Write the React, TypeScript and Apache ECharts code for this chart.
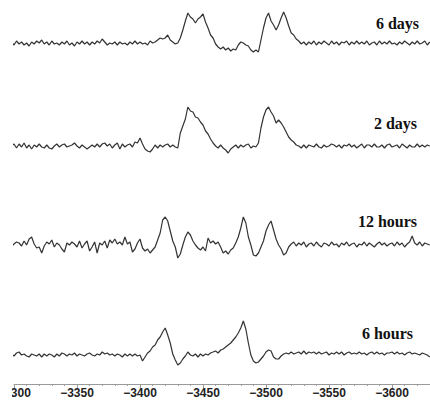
import React, { useEffect, useRef } from "react";
import * as echarts from "echarts";

// Field axis sampling (G): first sample and spacing between samples
const FIELD_START = -3298;
const FIELD_STEP = 2;
const TICK_INTERVAL = 50;
const FIELD_MIN = -3650;
const FIELD_MAX = -3300;

// Trace labels
const TRACE_LABELS = ["6 days", "2 days", "12 hours", "6 hours"];

// Signal intensities (arbitrary units, baseline = 0), one value per field sample
const SIX_DAYS = [
  1, -2, 2, -1, 1, -2, 0, -3, 1, -1,
  2, 0, 3, -1, 1, -2, 2, -1, 0, -2,
  1, -1, 2, -2, 0, -3, 1, -1, 2, -1,
  1, -2, 1, -1, 2, 0, 4, 1, -2, 0,
  -1, 1, -2, 1, -1, 0, -2, 1, -1, 2,
  -1, 1, -1, 0, -2, 2, 0, 1, 3, 5,
  4, 5, 8, 3, 1, -1, 0, 5, 13, 22,
  30, 26, 24, 20, 24, 26, 29, 21, 15, 8,
  5, -1, -4, -6, -4, -7, -5, -8, -6, -7,
  -2, 1, 0, -2, -3, -7, -9, -7, -9, 3,
  15, 25, 30, 22, 18, 13, 18, 25, 31, 25,
  17, 10, 8, 4, 2, -1, 1, -2, 1, -1,
  2, -2, 1, -1, 2, 0, -2, 2, -1, 1,
  -2, 1, 0, 2, -2, 1, -1, 2, -1, 1,
  -1, 2, -2, 0, 1, -2, 2, -1, 1, -1,
  2, -1, 0, -2, 1, -1, 2, 0, -2, 1,
  -1, 2, -1, 0, 2, -2, 1,
];

const TWO_DAYS = [
  0, 2, -2, 2, -1, 3, -2, 1, -3, 1,
  -1, 2, -1, -2, 1, -2, -3, 0, 2, -1,
  1, 2, -1, 0, 1, 3, 0, -2, 1, -1,
  -3, -1, 1, -1, 2, -1, 2, 3, 0, 2,
  -2, 1, 3, -3, 2, -1, 1, 2, -1, 4,
  3, 8, 2, -3, -5, -6, -3, 1, -2, 1,
  -1, 1, 2, -1, 1, -1, -2, 13, 20, 27,
  39, 35, 34, 29, 28, 24, 21, 15, 12, 7,
  3, 0, -2, 1, -2, -4, -7, -3, -1, 1,
  -2, 1, -1, 1, 2, -2, 0, -1, 3, 18,
  29, 36, 39, 34, 30, 23, 26, 23, 19, 14,
  9, 6, 4, 1, 0, -2, 1, -2, 1, 0,
  -1, 2, -1, -2, 1, -1, 0, 2, 1, -1,
  1, -2, 1, 0, 2, -1, 1, -2, 0, 2,
  -2, 1, 1, -1, 2, -1, -1, 1, -2, 1,
  2, -1, 0, 1, -2, 2, 0, -2, 1, -1,
  -1, 2, -1, 1, -1, 1, 0,
];

const TWELVE_HOURS = [
  -2, 1, 3, 2, -1, 4, 0, 6, 8, 1,
  -3, -2, -8, -1, 3, 1, 5, -2, 2, 0,
  -4, -7, 2, 0, 3, 1, -2, 4, -3, 1,
  4, -6, -2, 3, -8, 2, 0, 4, -3, 5,
  2, 6, 1, 3, 0, 8, 1, 3, -7, -4,
  2, 6, -3, -6, -4, -8, -5, -2, 5, 12,
  25, 28, 24, 14, 4, -2, -13, -9, 0, 8,
  13, 10, 4, 0, -3, -5, -2, -6, 7, 2,
  4, 1, 3, -2, -8, -6, -9, -5, -3, 2,
  8, 17, 28, 22, 8, 0, -10, -11, -8, -2,
  4, 14, 20, 24, 15, 6, 0, -4, -10, -8,
  -2, 1, 3, -1, 2, 0, 3, -2, 1, 2,
  -1, 3, 0, -2, 2, 1, -1, 3, 0, 1,
  -2, 2, 0, 3, -1, 1, 2, -2, 1, 0,
  3, -1, 2, 0, -2, 1, 3, 0, 2, -1,
  1, 2, -1, 3, 0, 2, -2, 1, 3, 9,
  2, 0, 3, -1, 2, 1, 0,
];

const SIX_HOURS = [
  1, -1, 2, 3, 0, 1, -1, -2, 1, 0,
  -1, 1, -2, 1, -1, 1, 0, -2, 1, -1,
  2, 1, -1, 1, 0, 2, -1, 1, 0, -1,
  1, 2, 0, -1, 1, 0, 3, 1, 2, 0,
  1, -1, 1, 0, -2, 1, -1, 1, -1, 1,
  -1, 0, -6, -2, 2, 4, 8, 10, 15, 18,
  23, 27, 20, 12, 1, -5, -10, -8, -4, -1,
  3, 0, -1, 1, -2, 1, -1, 1, 0, 2,
  3, 4, 2, 5, 6, 8, 10, 12, 15, 18,
  22, 27, 34, 26, 12, 0, -6, -8, -7, -4,
  -1, 3, 5, 4, -2, -4, -4, -1, 1, 2,
  1, 3, 1, 2, 3, 1, 4, 1, 3, 2,
  3, 1, 3, 1, 2, 3, 0, 2, 1, 3,
  1, 3, 0, 2, 3, 1, 2, 1, 3, 1,
  2, 0, 2, 3, 1, 3, 1, 2, 0, 2,
  2, 3, 1, 3, 1, 2, 0, 2, 3, 1,
  2, 1, 0, 2, 1, 0, -2,
];

const TRACES = [SIX_DAYS, TWO_DAYS, TWELVE_HOURS, SIX_HOURS];

// Panel layout (pixels) and label placement
const PANELS = [
  { top: 0, height: 58, yMin: -15, yMax: 43 },
  { top: 101, height: 60, yMin: -15, yMax: 45 },
  { top: 200, height: 60, yMin: -15, yMax: 45 },
  { top: 310, height: 74, yMin: -29, yMax: 45 },
];
const LABEL_POS = [
  { x: 419, y: 23 },
  { x: 417, y: 123 },
  { x: 417, y: 221 },
  { x: 413, y: 333 },
];

// The figure is framed starting a few pixels into the plot's left margin
const FRAME_LEFT = 12;

const toSeriesData = (values: number[]) =>
  values.map((v, i) => [FIELD_START - i * FIELD_STEP, v]);

export default function App() {
  const ref = useRef<HTMLDivElement>(null);

  useEffect(() => {
    if (!ref.current) return;
    const chart = echarts.init(ref.current, null, { renderer: "svg" });
    const last = PANELS.length - 1;

    chart.setOption({
      animation: false,
      backgroundColor: "#ffffff",
      grid: PANELS.map((p) => ({
        left: 14,
        width: 441,
        top: p.top,
        height: p.height,
        containLabel: false,
        outerBoundsMode: "none",
      })),
      xAxis: PANELS.map((_, i) => ({
        type: "value",
        gridIndex: i,
        min: FIELD_MIN,
        max: FIELD_MAX,
        interval: TICK_INTERVAL,
        inverse: true,
        show: i === last,
        axisLine: { show: true, onZero: false, lineStyle: { color: "#9a9a9a", width: 1 } },
        axisTick: { show: true, length: 4, lineStyle: { color: "#9a9a9a" } },
        minorTick: { show: true, splitNumber: 5, length: 2, lineStyle: { color: "#9a9a9a" } },
        splitLine: { show: false },
        axisLabel: {
          show: i === last,
          showMinLabel: false,
          margin: 3,
          color: "#222",
          fontFamily: "Liberation Sans, Arial, sans-serif",
          fontWeight: "bold",
          fontSize: 12,
          formatter: (v: number) => (v < 0 ? "\u2212" + Math.abs(v) : String(v)),
        },
      })),
      yAxis: PANELS.map((p, i) => ({
        type: "value",
        gridIndex: i,
        min: p.yMin,
        max: p.yMax,
        show: false,
        splitLine: { show: false },
      })),
      series: TRACES.map((values, i) => ({
        type: "line",
        xAxisIndex: i,
        yAxisIndex: i,
        data: toSeriesData(values),
        symbol: "none",
        silent: true,
        lineStyle: { color: "#333333", width: 1.2 },
      })),
      graphic: TRACE_LABELS.map((label, i) => ({
        type: "text",
        x: LABEL_POS[i].x,
        y: LABEL_POS[i].y,
        style: {
          text: label,
          fill: "#111",
          font: 'bold 16px "Liberation Serif", "Times New Roman", serif',
          textAlign: "right",
          textVerticalAlign: "middle",
        },
      })),
    });

    return () => chart.dispose();
  }, []);

  return (
    <div
      style={{
        position: "absolute",
        left: 0,
        top: 0,
        width: 430,
        height: 405,
        background: "#fff",
      }}
    >
      <div
        style={{
          position: "absolute",
          left: FRAME_LEFT,
          top: 0,
          width: 430 - FRAME_LEFT,
          height: 405,
          overflow: "hidden",
        }}
      >
        <div
          ref={ref}
          style={{ position: "absolute", left: -FRAME_LEFT, top: 0, width: 470, height: 405 }}
        />
      </div>
    </div>
  );
}
